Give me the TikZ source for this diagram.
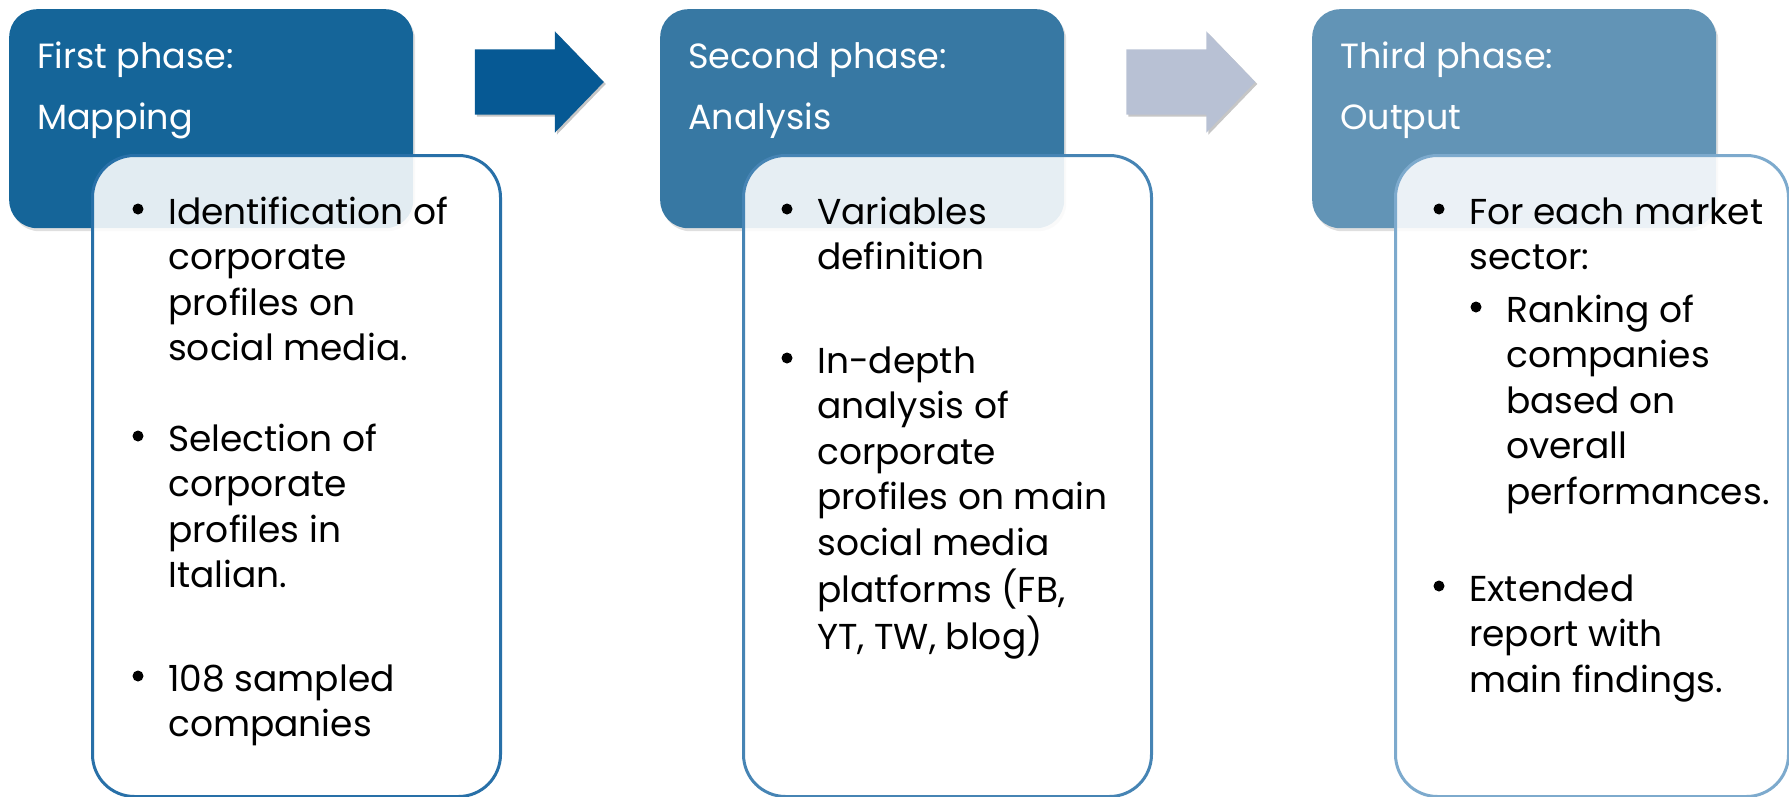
\documentclass[tikz,border=0pt]{standalone}
\usepackage{fontspec}
\setmainfont{Poppins}
\usepackage{tikz}
\usetikzlibrary{shapes.arrows,shadows,positioning}

\definecolor{headA}{RGB}{21,101,153}
\definecolor{headB}{RGB}{55,120,163}
\definecolor{headC}{RGB}{98,148,182}
\definecolor{edgeA}{RGB}{40,112,168}
\definecolor{edgeB}{RGB}{70,132,180}
\definecolor{edgeC}{RGB}{125,170,205}
\definecolor{arrA}{RGB}{6,89,148}
\definecolor{arrB}{RGB}{184,193,212}

% lines stacked under the first one, baseline on the first line
\newcommand{\stack}[1]{\begin{tabular}[t]{@{}l@{}}#1\end{tabular}}

\begin{document}
\begin{tikzpicture}[
  x=1pt, y=-1pt,
  phase/.style={rounded corners=28pt, minimum width=404pt, minimum height=219pt,
    anchor=north west, inner sep=0pt,
    drop shadow={opacity=0.25, shadow xshift=2pt, shadow yshift=-3pt}},
  card/.style={rounded corners=42pt, fill=white, fill opacity=0.88, line width=3pt,
    minimum height=641pt, anchor=north west, inner sep=0pt},
  go/.style={single arrow, single arrow head extend=18pt, single arrow tip angle=92,
    inner xsep=0pt, inner ysep=32.5pt, minimum height=129pt,
    drop shadow={opacity=0.45, shadow xshift=2pt, shadow yshift=-2pt}},
  title/.style={text=white, font=\fontsize{35}{61}\selectfont,
    anchor=base west, inner sep=0pt},
  item/.style={font=\fontsize{36}{45.5}\selectfont,
    anchor=base west, inner sep=0pt},
  dot/.style={circle, fill=black, minimum size=11pt, inner sep=0pt}
]
\useasboundingbox (0,0) rectangle (1789,796);

% phase headers
\foreach \i/\x/\hc/\txt in {1/9/headA/{First phase:\\Mapping},
                            2/660/headB/{Second phase:\\Analysis},
                            3/1312/headC/{Third phase:\\Output}} {
  \node[phase, fill=\hc] (ph\i) at (\x,9) {};
  \node[title] (tt\i) at (\x+28,68) {\stack{\txt}};
}

% block arrows between the phases
\node[go, fill=arrA] (go1) at (523.5,82) {};
\node[go, fill=arrB] (go2) at (1175,82) {};

% white cards on top of the headers
\node[card, draw=edgeA, minimum width=408pt] (cd1) at (91,154) {};
\node[card, draw=edgeB, minimum width=408pt] (cd2) at (742,154) {};
\node[card, draw=edgeC, minimum width=393pt] (cd3) at (1394,154) {};

% bullet items
\foreach \nm/\x/\y/\txt in {
    it11/168/224/{Identification of\\corporate\\profiles on\\social media.},
    it12/168/451/{Selection of\\corporate\\profiles in\\Italian.},
    it13/168/691/{108 sampled\\companies},
    it21/817/224/{Variables\\definition},
    it22/817/373/{In-depth\\analysis of\\corporate\\profiles on main\\social media\\platforms (FB,\\YT, TW, blog)},
    it31/1469/224/{For each market\\sector:},
    it32/1506/322/{Ranking of\\companies\\based on\\overall\\performances.},
    it33/1469/601/{Extended\\report with\\main findings.}} {
  \node[dot] (d\nm) at (\x-30,\y-15) {};
  \node[item] (\nm) at (\x,\y) {\stack{\txt}};
}
\end{tikzpicture}
\end{document}
